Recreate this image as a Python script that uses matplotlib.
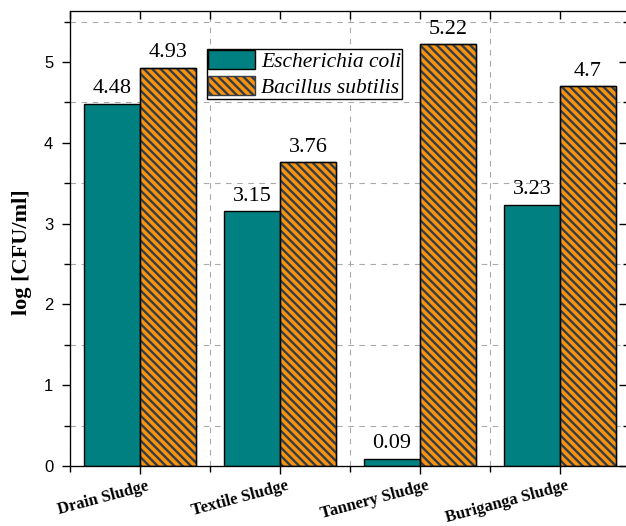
import numpy as np
import matplotlib
matplotlib.use('Agg')
import matplotlib.pyplot as plt
from matplotlib.ticker import MultipleLocator, FixedLocator

# data
sites = ['Drain Sludge', 'Textile Sludge', 'Tannery Sludge', 'Buriganga Sludge']
ecoli = [4.48, 3.15, 0.09, 3.23]
bsubtilis = [4.93, 3.76, 5.22, 4.7]
ecoli_labels = ['4.48', '3.15', '0.09', '3.23']
bsub_labels = ['4.93', '3.76', '5.22', '4.7']

teal = '#008080'
orange = '#f7930f'
stripe = '#333d47'

plt.rcParams['hatch.linewidth'] = 1.7
plt.rcParams['font.family'] = 'Liberation Serif'

fig = plt.figure(figsize=(6.26, 5.26), dpi=100)
ax = fig.add_axes([70 / 626, 60 / 526, 560 / 626, 455 / 526])

x = np.arange(1, len(sites) + 1)
w = 0.4
edges = [0.5, 1.5, 2.5, 3.5, 4.5]

b1 = ax.bar(x - w / 2, ecoli, w, color=teal, edgecolor='black', linewidth=1, zorder=3,
            label='Escherichia coli')
b2 = ax.bar(x + w / 2, bsubtilis, w, color=orange, edgecolor=stripe, hatch='\\\\\\\\',
            linewidth=1, zorder=3, label='Bacillus subtilis')
# black outline over the hatched bars
ax.bar(x + w / 2, bsubtilis, w, fill=False, edgecolor='black', linewidth=1, zorder=4)

ax.bar_label(b1, labels=ecoli_labels, padding=4, fontsize=16)
ax.bar_label(b2, labels=bsub_labels, padding=4, fontsize=16)

ax.set_xlim(0.5, 4.5)
ax.set_ylim(0, 5.63)

ax.set_xticks(x)
ax.set_xticklabels([])
# category names, nudged a bit right of their ticks
for xi, s in zip(x, sites):
    ax.annotate(s, xy=(xi, 0), xycoords=('data', 'axes fraction'),
                xytext=(4.6, -8.6), textcoords='offset points',
                rotation=15, rotation_mode='anchor', ha='right', va='top',
                fontsize=12, fontweight='bold', annotation_clip=False)
ax.xaxis.set_minor_locator(FixedLocator(edges))
ax.yaxis.set_major_locator(MultipleLocator(1))
ax.yaxis.set_minor_locator(MultipleLocator(0.5))

for lab in ax.get_yticklabels():
    lab.set_fontfamily('Liberation Sans')
    lab.set_fontsize(12)

ax.tick_params(which='major', direction='out', length=6, width=1, pad=6)
ax.tick_params(which='minor', direction='out', length=4, width=1)

ax.grid(which='minor', color='#aaaaaa', linestyle=(0, (5, 5)), linewidth=0.8, zorder=0)
ax.set_axisbelow(True)

# top and right ticks point inward
top = ax.twiny()
top.set_xlim(ax.get_xlim())
top.set_xticks(x)
top.xaxis.set_minor_locator(FixedLocator(edges))
top.tick_params(which='both', direction='in', length=6, width=1, labeltop=False)
right = ax.twinx()
right.set_ylim(ax.get_ylim())
right.yaxis.set_major_locator(MultipleLocator(1))
right.yaxis.set_minor_locator(MultipleLocator(0.5))
right.tick_params(which='major', direction='in', length=8, width=1, labelright=False)
right.tick_params(which='minor', direction='in', length=5, width=1)

ax.set_ylabel('log [CFU/ml]', fontsize=16, fontweight='bold')
ax.yaxis.set_label_coords(-0.068, 0.47)

leg = right.legend([b1, b2], ['Escherichia coli', 'Bacillus subtilis'],
                   loc='upper left', bbox_to_anchor=(0.2446, 0.9165),
                   bbox_transform=ax.transAxes, borderaxespad=0,
                   prop={'style': 'italic', 'size': 15.5},
                   handlelength=2.2, handleheight=1.0, handletextpad=0.25,
                   labelspacing=0.18, borderpad=0.05, fancybox=False, framealpha=1,
                   edgecolor='black')
leg.get_frame().set_linewidth(1)

fig.savefig('out.png', dpi=100)
